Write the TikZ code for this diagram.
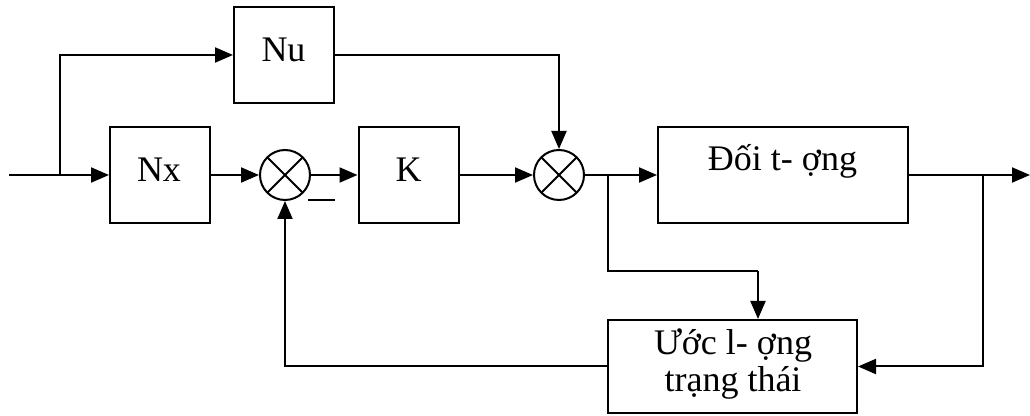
\documentclass[tikz,border=0pt]{standalone}
\usepackage{fontspec}
\setmainfont{Liberation Serif}
\usetikzlibrary{arrows.meta}
\begin{document}
\begin{tikzpicture}[x=0.5pt,y=-0.5pt,
  blk/.style={draw,line width=1pt,minimum width=50pt,minimum height=48pt,inner sep=0pt},
  txt/.style={anchor=base,inner sep=0pt,font=\fontsize{18}{18.5}\selectfont,align=center},
  sumnode/.style={draw,line width=1pt,circle,minimum size=25pt,inner sep=0pt,
    path picture={\draw[line width=1pt] (path picture bounding box.north west) -- (path picture bounding box.south east)
      (path picture bounding box.north east) -- (path picture bounding box.south west);}},
  wire/.style={line width=1pt},
  arr/.style={line width=1pt,-{Triangle[length=9pt,width=7.5pt]}}]
\useasboundingbox (0,0) rectangle (1030,416);
% blocks
\node[blk] (Nu) at (284,55) {};
\node[blk] (Nx) at (160,175) {};
\node[blk] (K) at (408.5,175) {};
\node[blk,minimum width=125pt] (plant) at (783,175) {};
\node[blk,minimum width=124.5pt,minimum height=46.5pt] (est) at (732.5,366.5) {};
\node[sumnode] (s1) at (285,175) {};
\node[sumnode] (s2) at (559,175) {};
% texts
\node[txt] (Nut) at (283.5,62) {Nu};
\node[txt] (Nxt) at (159,182) {Nx};
\node[txt] (Kt) at (408.5,182) {K};
\node[txt] (plantt) at (782.5,171) {Đối t- ợng};
\node[txt] (estt1) at (733,355) {Ước l- ợng};
\node[txt] (estt2) at (733,392) {trạng thái};
\node[inner sep=0pt,minimum width=13.5pt,minimum height=1pt,fill] (minus) at (321.5,200) {};
% junctions
\coordinate (in) at (9,175);
\coordinate (j1) at (60,175);
\coordinate (j2) at (608,175);
\coordinate (j3) at (758,271);
\coordinate (j4) at (983,175);
\coordinate (out) at (1030,175);
% connectors
\draw[wire] (in) -- (j1);
\draw[arr] (j1) -- (Nx.west);
\draw[arr] (j1) |- (Nu.west);
\draw[arr] (Nx.east) -- (s1.west);
\draw[arr] (s1.east) -- (K.west);
\draw[arr] (K.east) -- (s2.west);
\draw[arr] (Nu.east) -| (s2.north);
\draw[wire] (s2.east) -- (j2);
\draw[arr] (j2) -- (plant.west);
\draw[wire] (j2) |- (j3);
\draw[arr] (j3) -- (j3 |- est.north);
\draw[wire] (plant.east) -- (j4);
\draw[arr] (j4) -- (out);
\draw[arr] (j4) |- (est.east);
\draw[arr] (est.west) -| (s1.south);
\end{tikzpicture}
\end{document}
